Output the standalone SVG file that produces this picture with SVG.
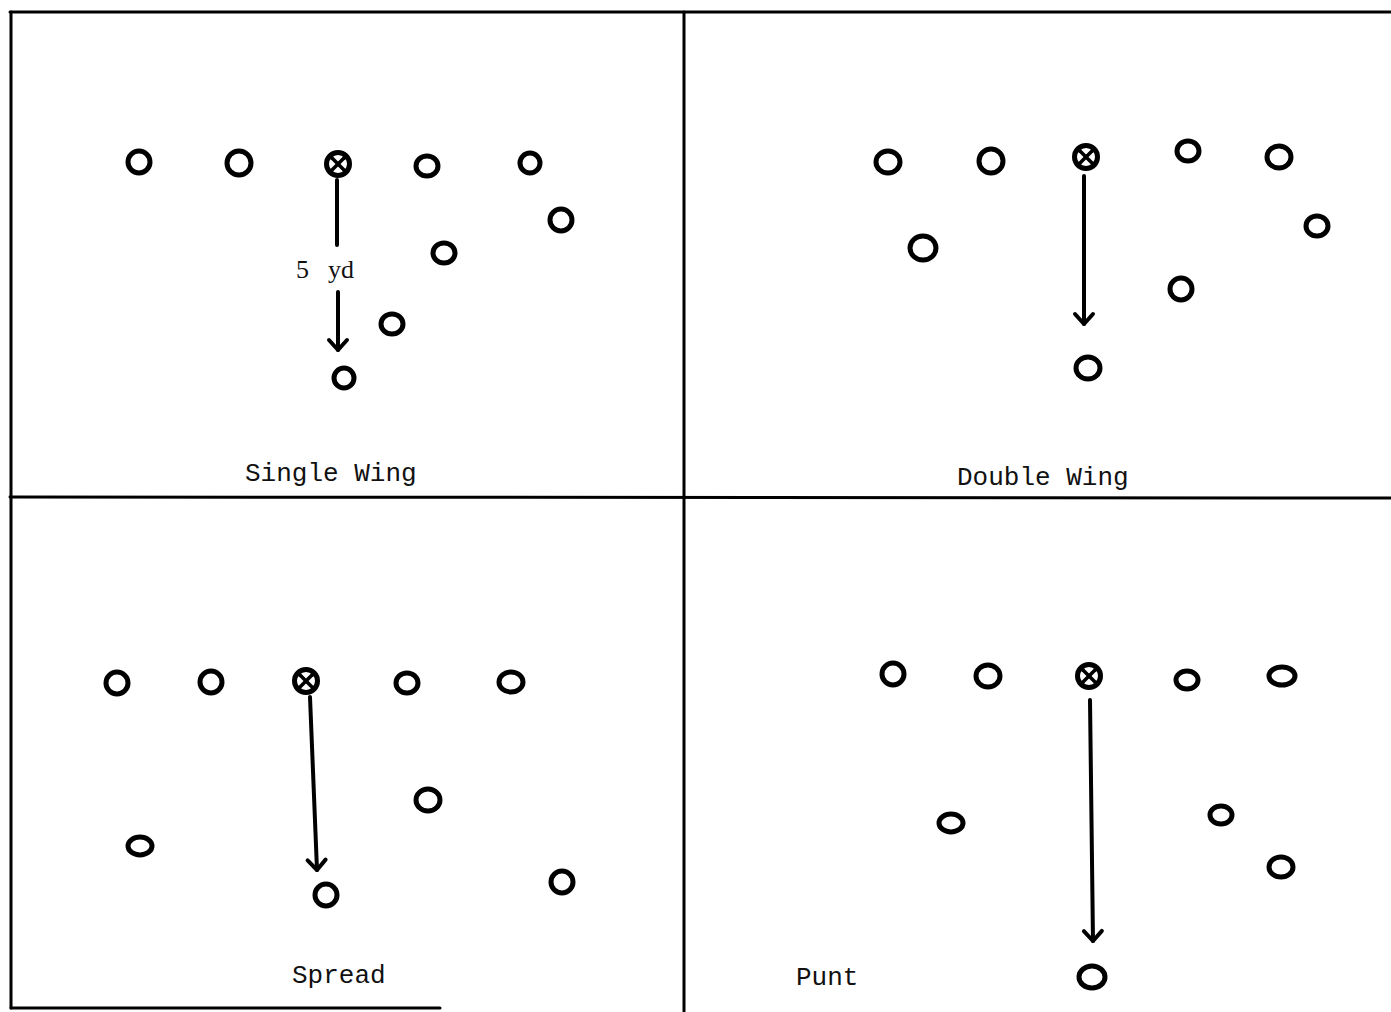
<svg xmlns="http://www.w3.org/2000/svg" width="1391" height="1012" viewBox="0 0 1391 1012">
<style>
.frame{stroke:#000;stroke-width:3;fill:none;stroke-linecap:round}
.p{fill:none;stroke:#000;stroke-width:5}
.c{fill:none;stroke:#000;stroke-width:5}
.x{stroke:#000;stroke-width:3.5;stroke-linecap:round}
.arr{stroke:#000;stroke-width:4;fill:none;stroke-linecap:round}
.lbl{font-family:"Liberation Mono","DejaVu Sans Mono",monospace;font-size:26px;fill:#111}
.yd{font-family:"Liberation Serif","DejaVu Serif",serif;font-size:26px;fill:#111}
</style>
<defs>
<marker id="ah" markerUnits="userSpaceOnUse" markerWidth="30" markerHeight="30" viewBox="-15 -15 30 30" refX="0" refY="0" orient="auto" overflow="visible">
<path d="M-10,-9 L0,0 L-10,9" fill="none" stroke="#000" stroke-width="4" stroke-linecap="round" stroke-linejoin="round"/>
</marker>
<g id="cx">
<circle r="11.5" class="c"/>
<line x1="-6" y1="-6" x2="6" y2="6" class="x"/>
<line x1="-6" y1="6" x2="6" y2="-6" class="x"/>
</g>
</defs>
<rect width="1391" height="1012" fill="#fff"/>
<g id="frame">
<line x1="10" y1="12" x2="1391" y2="12" class="frame"/>
<line x1="11" y1="12" x2="11" y2="1008" class="frame"/>
<line x1="684" y1="12" x2="684" y2="1012" class="frame"/>
<line x1="10" y1="497" x2="1391" y2="498" class="frame"/>
<line x1="11" y1="1008" x2="440" y2="1008" class="frame"/>
</g>
<g id="connectors">
<line x1="337" y1="180" x2="337" y2="245" class="arr"/>
<line x1="338" y1="292" x2="338" y2="350" class="arr" marker-end="url(#ah)"/>
<line x1="1084" y1="176" x2="1084" y2="324" class="arr" marker-end="url(#ah)"/>
<line x1="310" y1="697" x2="317" y2="870" class="arr" marker-end="url(#ah)"/>
<line x1="1090" y1="700" x2="1093" y2="941" class="arr" marker-end="url(#ah)"/>
</g>
<g id="single-wing">
<ellipse id="sw1" cx="139" cy="162" rx="11" ry="11" class="p"/>
<ellipse id="sw2" cx="239" cy="163" rx="12" ry="12" class="p"/>
<use id="sw-center" href="#cx" x="338" y="164"/>
<ellipse id="sw3" cx="427" cy="166" rx="11" ry="10" class="p"/>
<ellipse id="sw4" cx="530" cy="163" rx="10" ry="10" class="p"/>
<ellipse id="sw5" cx="561" cy="220" rx="11" ry="11" class="p"/>
<ellipse id="sw6" cx="444" cy="253" rx="11" ry="10" class="p"/>
<ellipse id="sw7" cx="392" cy="324" rx="11" ry="10" class="p"/>
<ellipse id="sw8" cx="344" cy="378" rx="10" ry="10" class="p"/>
<text x="296" y="278" class="yd">5 <tspan x="328">yd</tspan></text>
<text x="245" y="481" class="lbl">Single Wing</text>
</g>
<g id="double-wing">
<ellipse id="dw1" cx="888" cy="162" rx="12" ry="11" class="p"/>
<ellipse id="dw2" cx="991" cy="161" rx="12" ry="12" class="p"/>
<use id="dw-center" href="#cx" x="1086" y="157"/>
<ellipse id="dw3" cx="1188" cy="151" rx="11" ry="10" class="p"/>
<ellipse id="dw4" cx="1279" cy="157" rx="12" ry="11" class="p"/>
<ellipse id="dw5" cx="1317" cy="226" rx="11" ry="10" class="p"/>
<ellipse id="dw6" cx="923" cy="248" rx="13" ry="12" class="p"/>
<ellipse id="dw7" cx="1181" cy="289" rx="11" ry="11" class="p"/>
<ellipse id="dw8" cx="1088" cy="368" rx="12" ry="11" class="p"/>
<text x="957" y="485" class="lbl">Double Wing</text>
</g>
<g id="spread">
<ellipse id="sp1" cx="117" cy="683" rx="11" ry="11" class="p"/>
<ellipse id="sp2" cx="211" cy="682" rx="11" ry="11" class="p"/>
<use id="sp-center" href="#cx" x="306" y="681"/>
<ellipse id="sp3" cx="407" cy="683" rx="11" ry="10" class="p"/>
<ellipse id="sp4" cx="511" cy="682" rx="12" ry="10" class="p"/>
<ellipse id="sp5" cx="428" cy="800" rx="12" ry="11" class="p"/>
<ellipse id="sp6" cx="140" cy="846" rx="12" ry="9" class="p"/>
<ellipse id="sp7" cx="326" cy="895" rx="11" ry="11" class="p"/>
<ellipse id="sp8" cx="562" cy="882" rx="11" ry="11" class="p"/>
<text x="292" y="983" class="lbl">Spread</text>
</g>
<g id="punt">
<ellipse id="pu1" cx="893" cy="674" rx="11" ry="11" class="p"/>
<ellipse id="pu2" cx="988" cy="676" rx="12" ry="11" class="p"/>
<use id="pu-center" href="#cx" x="1089" y="676"/>
<ellipse id="pu3" cx="1187" cy="680" rx="11" ry="9" class="p"/>
<ellipse id="pu4" cx="1282" cy="676" rx="13" ry="9" class="p"/>
<ellipse id="pu5" cx="951" cy="823" rx="12" ry="9" class="p"/>
<ellipse id="pu6" cx="1221" cy="815" rx="11" ry="9" class="p"/>
<ellipse id="pu7" cx="1281" cy="867" rx="12" ry="10" class="p"/>
<ellipse id="pu8" cx="1092" cy="977" rx="13" ry="11" class="p"/>
<text x="796" y="985" class="lbl">Punt</text>
</g>
</svg>
